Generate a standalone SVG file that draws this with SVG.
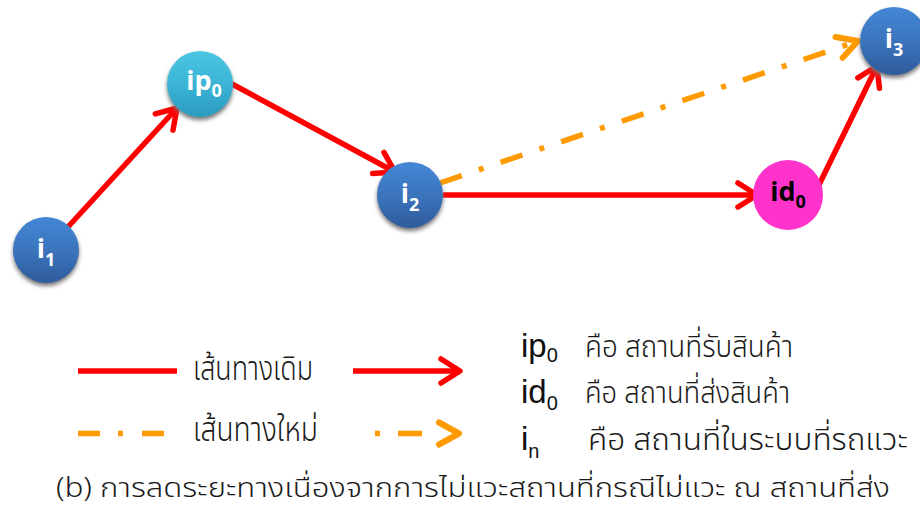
<svg xmlns="http://www.w3.org/2000/svg" width="920" height="509" viewBox="0 0 920 509">
<style>
.red{stroke:#FF0000;stroke-width:5.5;fill:none;stroke-linecap:butt}
.org{stroke:#FF9A00;stroke-width:5.5;fill:none}
.nt{font-family:'Open Sans','Liberation Sans',sans-serif;font-weight:700;font-size:27px;fill:#FFFFFF;text-anchor:middle}
.sub{font-size:18px}
.th{font-family:'Noto Sans Thai','Noto Sans','DejaVu Sans',sans-serif;font-weight:300;font-size:34px;fill:#1a1a1a}
.thr{font-size:31px}
.cap{font-size:27px}
.lat{font-family:'Liberation Sans',Arial,sans-serif;fill:#111;font-size:33px}
.ls{font-size:20px}
</style>
<defs>
<linearGradient id="gBlue" x1="0" y1="0" x2="0" y2="1">
<stop offset="0" stop-color="#4487D6"/>
<stop offset="0.55" stop-color="#3A72BA"/>
<stop offset="1" stop-color="#2E5C9C"/>
</linearGradient>
<linearGradient id="gCyan" x1="0" y1="0" x2="0" y2="1">
<stop offset="0" stop-color="#4CC6E2"/>
<stop offset="0.55" stop-color="#3AB2D4"/>
<stop offset="1" stop-color="#2B9BC0"/>
</linearGradient>
<filter id="sh" x="-30%" y="-30%" width="160%" height="170%">
<feGaussianBlur in="SourceAlpha" stdDeviation="2"/>
<feOffset dx="0" dy="3" result="b"/>
<feFlood flood-color="#777"/>
<feComposite in2="b" operator="in"/>
<feMerge><feMergeNode/><feMergeNode in="SourceGraphic"/></feMerge>
</filter>
<marker id="mRed" markerUnits="userSpaceOnUse" markerWidth="40" markerHeight="40" viewBox="-30 -20 40 40" refX="0" refY="0" orient="auto">
<path d="M-19,-12 L0,0 L-19,12" fill="none" stroke="#FF0000" stroke-width="5.5" stroke-linecap="round" stroke-linejoin="round"/>
</marker>
<marker id="mOrg" markerUnits="userSpaceOnUse" markerWidth="40" markerHeight="40" viewBox="-30 -20 40 40" refX="0" refY="0" orient="auto">
<path d="M-20,-11 L0,0 L-20,11" fill="none" stroke="#FF9A00" stroke-width="6" stroke-linecap="round" stroke-linejoin="round"/>
</marker>
</defs>

<g id="connectors">
<line class="org" x1="440" y1="183" x2="858" y2="41" stroke-dasharray="23 18 5 18" marker-end="url(#mOrg)"/>
<line class="red" x1="67" y1="228" x2="177" y2="108" marker-end="url(#mRed)"/>
<line class="red" x1="232" y1="84" x2="395" y2="172" marker-end="url(#mRed)"/>
<line class="red" x1="443" y1="195" x2="757" y2="195" marker-end="url(#mRed)"/>
<line class="red" x1="815" y1="193" x2="877" y2="66" marker-end="url(#mRed)"/>
</g>

<g id="node-i1">
<circle cx="46" cy="250" r="33" fill="url(#gBlue)" filter="url(#sh)"/>
<text class="nt" x="46" y="258">i<tspan class="sub" dy="8">1</tspan></text>
</g>
<g id="node-ip0">
<circle cx="200" cy="84" r="33" fill="url(#gCyan)" filter="url(#sh)"/>
<text class="nt" x="204" y="90">ip<tspan class="sub" dy="7">0</tspan></text>
</g>
<g id="node-i2">
<circle cx="410" cy="195" r="33" fill="url(#gBlue)" filter="url(#sh)"/>
<text class="nt" x="410" y="203">i<tspan class="sub" dy="8">2</tspan></text>
</g>
<g id="node-id0">
<circle cx="788" cy="195" r="35" fill="#FF33CC"/>
<text class="nt" x="788" y="201" style="fill:#000">id<tspan class="sub" dy="7">0</tspan></text>
</g>
<g id="node-i3">
<circle cx="894" cy="41" r="34" fill="url(#gBlue)" filter="url(#sh)"/>
<text class="nt" x="894" y="48">i<tspan class="sub" dy="8">3</tspan></text>
</g>

<g id="legend">
<line class="red" x1="78" y1="371" x2="177" y2="371"/>
<text class="th" x="193" y="380" textLength="120" lengthAdjust="spacingAndGlyphs">เส้นทางเดิม</text>
<line class="red" x1="353" y1="371" x2="460" y2="371" marker-end="url(#mRed)"/>
<line class="org" x1="78" y1="433.5" x2="164" y2="433.5" stroke-dasharray="22 18 5 19 22 100"/>
<text class="th" x="193" y="441" textLength="125" lengthAdjust="spacingAndGlyphs">เส้นทางใหม่</text>
<line class="org" x1="375" y1="433.5" x2="459" y2="433.5" stroke-dasharray="5 18 24 100" marker-end="url(#mOrg)"/>

<text class="lat" x="521" y="357">ip<tspan class="ls" dy="5">0</tspan></text>
<text class="th thr" x="585" y="357" textLength="208" lengthAdjust="spacingAndGlyphs">คือ สถานที่รับสินค้า</text>
<text class="lat" x="521" y="403">id<tspan class="ls" dy="7">0</tspan></text>
<text class="th thr" x="585" y="403" textLength="205" lengthAdjust="spacingAndGlyphs">คือ สถานที่ส่งสินค้า</text>
<text class="lat" x="521" y="450">i<tspan class="ls" dy="8">n</tspan></text>
<text class="th thr" x="588" y="450" textLength="320" lengthAdjust="spacingAndGlyphs">คือ สถานที่ในระบบที่รถแวะ</text>
</g>

<text id="caption" class="th cap" x="56" y="497" textLength="834" lengthAdjust="spacingAndGlyphs">(b) การลดระยะทางเนื่องจากการไม่แวะสถานที่กรณีไม่แวะ ณ สถานที่ส่ง</text>
</svg>
